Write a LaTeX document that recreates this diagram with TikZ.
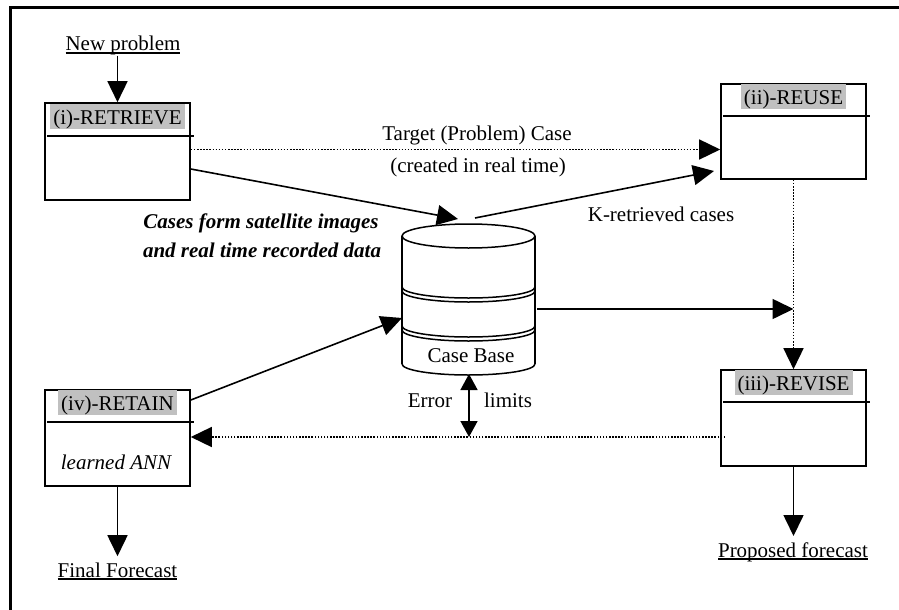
\documentclass[tikz,border=0pt]{standalone}
\usepackage{fontspec}
\setmainfont{Liberation Serif}
\usetikzlibrary{arrows.meta,calc}
\definecolor{labelgray}{RGB}{192,192,192}
% underline sitting just below the baseline, crossing descenders
\newcommand\ulword[1]{\setbox0\hbox{#1}\rlap{\rule[-2.6pt]{\wd0}{1.3pt}}\box0}
\begin{document}
\begin{tikzpicture}[x=1pt,y=-1pt,
  font=\fontsize{21}{25}\selectfont,
  phase/.style={draw, line width=1.6pt, minimum width=145pt, inner sep=0pt},
  phasetitle/.style={fill=labelgray, anchor=base, inner xsep=3pt, inner ysep=0pt,
                     text height=20.5pt, text depth=5pt},
  txt/.style={anchor=base, inner sep=0pt},
  flow/.style={line width=1.6pt, -{Triangle[length=21pt,width=20pt]}},
  dotflow/.style={line width=1.5pt, dash pattern=on 1.5pt off 1.6pt,
                  -{Triangle[length=21pt,width=20pt]}},
  bothflow/.style={line width=1.6pt,
                   {Triangle[length=16pt,width=17pt]}-{Triangle[length=16pt,width=17pt]}},
  divider/.style={line width=1.6pt},
  cyl/.style={line width=1.5pt}]
\useasboundingbox (0,0) rectangle (899,610);

% outer frame (top and left edges)
\draw[line width=3pt] (10.8,612) -- (10.8,7.5) -- (901,7.5);

% the four CBR phases
\node[phase, minimum height=97pt] (retrieve) at (117.5,151.5) {};
\node[phase, minimum height=95pt] (reuse)    at (793.5,131.5) {};
\node[phase, minimum height=96pt] (revise)   at (793.5,418)   {};
\node[phase, minimum height=96pt] (retain)   at (117.5,438)   {};

\draw[divider] ([xshift=3pt,yshift=-34pt]retrieve.north west) -- ([xshift=3pt,yshift=-34pt]retrieve.north east);
\draw[divider] ([xshift=3pt,yshift=-33pt]reuse.north west) -- ([xshift=3pt,yshift=-33pt]reuse.north east);
\draw[divider] ([xshift=3pt,yshift=-33pt]revise.north west) -- ([xshift=3pt,yshift=-33pt]revise.north east);
\draw[divider] ([xshift=3pt,yshift=-33pt]retain.north west) -- ([xshift=3pt,yshift=-33pt]retain.north east);

\node[phasetitle] (retrieveT) at ($(retrieve.north)+(0,22)$) {(i)-RETRIEVE};
\node[phasetitle] (reuseT)    at ($(reuse.north)+(0,21)$)    {(ii)-REUSE};
\node[phasetitle] (reviseT)   at ($(revise.north)+(0,21)$)   {(iii)-REVISE};
\node[phasetitle] (retainT)   at ($(retain.north)+(0,21)$)   {(iv)-RETAIN};
\node[txt] (ann) at (116,469) {\itshape learned ANN};

% case base: stacked cylinder
\draw[cyl] (468.5,236) ellipse [x radius=66.5pt, y radius=12pt];
\draw[cyl] (402,236) -- (402,364);
\draw[cyl] (535,236) -- (535,364);
\foreach \yy in {287,291,326,330,364}
  \draw[cyl] (402,\yy) arc[start angle=180, end angle=360, x radius=66.5pt, y radius=11pt];
\node[txt] (casebase) at (471,362) {Case Base};

\coordinate (cbInL)  at (458,219);
\coordinate (cbOutT) at (475,218);
\coordinate (cbInS)  at (402,318);
\coordinate (cbOutE) at (537,309);
\coordinate (cbErr)  at (469,374);
\coordinate (errEnd) at (469,437);
\coordinate (reuseIn) at (714,171);

% texts
\node[txt] (np)   at (123,51)  {\ulword{New problem}};
\node[txt] (tgt)  at (477,140) {Target (Problem) Case};
\node[txt] (crt)  at (478,172) {(created in real time)};
\node[txt] (kret) at (661,221) {K-retrieved cases};
\node[txt, font=\fontsize{21}{25}\selectfont\bfseries\itshape] (cases1) at (261,228) {Cases form satellite images};
\node[txt, font=\fontsize{21}{25}\selectfont\bfseries\itshape] (cases2) at (262,257) {and real time recorded data};
\node[txt] (err)  at (430,407) {Error};
\node[txt] (lim)  at (508,407) {limits};
\node[txt] (prop) at (793,557) {\ulword{Proposed forecast}};
\node[txt] (fin)  at (117.5,577) {\ulword{Final Forecast}};

% connectors
\draw[flow] (retrieve.north |- np.south) -- (retrieve.north);
\draw[dotflow] ([yshift=2pt]retrieve.east) -- ([yshift=2pt]retrieve.east -| reuse.west);
\draw[flow] ([yshift=-17.5pt]retrieve.east) -- (cbInL);
\draw[flow] (cbOutT) -- (reuseIn);
\draw[flow] ([yshift=38pt]retain.east) -- (cbInS);
\draw[flow] (cbOutE) -- (cbOutE -| reuse.south);
\draw[dotflow] (reuse.south) -- (revise.north);
\draw[dotflow] ([xshift=5pt,yshift=-19pt]revise.west) -- ([yshift=-19pt]revise.west -| retain.east);
\draw[bothflow] (cbErr) -- (errEnd);
\draw[flow] (revise.south) -- ([yshift=6pt]revise.south |- prop.north);
\draw[flow] (retain.south) -- ([yshift=6pt]retain.south |- fin.north);
\end{tikzpicture}
\end{document}
